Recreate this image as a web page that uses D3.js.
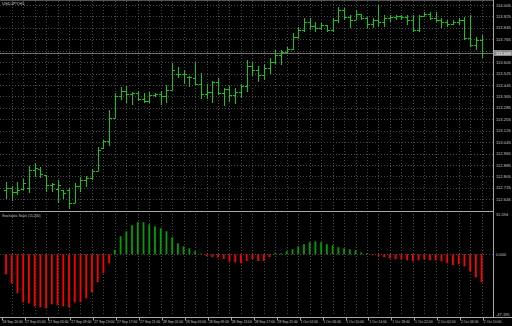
<!DOCTYPE html>
<html><head><meta charset="utf-8">
<script src="https://cdn.jsdelivr.net/npm/d3@7"></script>
<style>html,body{margin:0;padding:0;background:#000;overflow:hidden}</style>
</head><body><svg id="c" width="512" height="326"></svg>
<script>
const symbolTitle = "USDJPY,H1";
const indicatorTitle = "Stochastic Stack (15,200)";
const openP = [112.710,112.724,112.696,112.717,112.724,112.850,112.857,112.815,112.745,112.717,112.710,112.710,112.619,112.738,112.780,112.794,112.843,113.004,113.053,113.214,113.368,113.403,113.382,113.389,113.347,113.333,113.375,113.382,113.368,113.410,113.522,113.522,113.501,113.494,113.452,113.382,113.396,113.466,113.389,113.417,113.375,113.396,113.438,113.578,113.550,113.515,113.564,113.606,113.655,113.676,113.697,113.781,113.830,113.886,113.858,113.844,113.865,113.830,113.900,113.970,113.921,113.900,113.942,113.914,113.872,113.900,113.886,113.914,113.921,113.928,113.921,113.900,113.830,113.928,113.942,113.914,113.900,113.886,113.872,113.886,113.900,113.774,113.725,113.760];
const highP = [112.766,112.738,112.766,112.787,112.878,112.899,112.871,112.815,112.759,112.780,112.710,112.724,112.759,112.801,112.808,112.857,113.011,113.060,113.270,113.389,113.431,113.438,113.396,113.403,113.389,113.396,113.389,113.403,113.445,113.599,113.571,113.550,113.508,113.606,113.529,113.452,113.473,113.494,113.424,113.438,113.424,113.452,113.620,113.606,113.578,113.592,113.634,113.690,113.690,113.711,113.809,113.851,113.914,113.914,113.886,113.879,113.865,113.914,113.991,113.984,113.935,113.970,113.942,113.921,113.914,114.005,113.935,113.935,113.935,113.935,113.935,113.935,113.935,113.956,113.956,113.956,113.914,113.900,113.900,113.914,113.921,113.935,113.781,113.795];
const lowP = [112.647,112.633,112.675,112.710,112.689,112.801,112.794,112.696,112.696,112.619,112.647,112.577,112.619,112.696,112.731,112.780,112.843,112.997,113.018,113.214,113.340,113.319,113.305,113.333,113.319,113.319,113.361,113.305,113.319,113.410,113.494,113.452,113.431,113.445,113.347,113.347,113.319,113.375,113.298,113.326,113.312,113.354,113.396,113.508,113.466,113.480,113.522,113.592,113.585,113.669,113.690,113.767,113.816,113.830,113.816,113.830,113.816,113.816,113.879,113.900,113.844,113.900,113.900,113.844,113.844,113.851,113.851,113.886,113.900,113.900,113.865,113.816,113.816,113.921,113.900,113.886,113.844,113.851,113.865,113.865,113.760,113.711,113.690,113.634];
const closeP = [112.724,112.696,112.710,112.759,112.850,112.864,112.822,112.745,112.752,112.745,112.689,112.619,112.738,112.780,112.794,112.843,112.990,113.053,113.214,113.368,113.403,113.382,113.389,113.347,113.333,113.375,113.382,113.368,113.410,113.550,113.522,113.522,113.501,113.452,113.382,113.396,113.466,113.389,113.417,113.375,113.396,113.438,113.578,113.550,113.515,113.564,113.606,113.655,113.676,113.697,113.781,113.830,113.886,113.858,113.844,113.865,113.830,113.900,113.970,113.921,113.900,113.942,113.914,113.872,113.900,113.886,113.914,113.921,113.928,113.921,113.900,113.830,113.928,113.942,113.914,113.900,113.886,113.872,113.886,113.900,113.774,113.725,113.760,113.669];
const histValues = [-15.3,-22.2,-29.8,-36.7,-37.5,-39.8,-40.5,-41.3,-38.3,-39.0,-39.8,-40.5,-36.7,-36.7,-33.7,-29.1,-21.4,-14.5,-6.9,3.4,13.8,17.6,22.2,24.5,24.5,23.0,21.4,19.9,17.6,13.0,8.4,6.1,4.6,2.3,0.5,-1.3,-2.1,-2.5,-3.6,-5.6,-6.3,-6.9,-5.1,-3.8,-5.1,-5.1,-2.3,1.3,0.8,2.3,3.8,6.1,7.7,9.2,9.9,9.2,7.7,6.9,5.4,4.6,3.8,3.1,1.5,0.8,-0.8,-1.5,-2.3,-3.1,-3.8,-3.8,-4.6,-5.4,-4.6,-3.8,-4.6,-4.6,-5.4,-6.9,-8.2,-7.7,-9.2,-13.0,-17.6,-21.4];
const priceTicks = [114.005,113.925,113.845,113.765,113.685,113.605,113.525,113.445,113.365,113.285,113.205,113.125,113.045,112.965,112.885,112.805,112.725,112.645];
const timeLabels = ["26 Sep 20:00","27 Sep 01:00","27 Sep 05:00","27 Sep 09:00","27 Sep 13:00","27 Sep 17:00","27 Sep 21:00","28 Sep 01:00","28 Sep 05:00","28 Sep 09:00","28 Sep 13:00","28 Sep 17:00","28 Sep 21:00","1 Oct 02:00","1 Oct 06:00","1 Oct 10:00","1 Oct 14:00","1 Oct 18:00","1 Oct 22:00","2 Oct 02:00","2 Oct 06:00","2 Oct 10:00"];
const histTicks = [31.594, 0, -47.195];
const histTickLabels = ["31.594","0.000","-47.195"];
const lastPrice = 113.669;

const svg = d3.select("#c");
const W = 512, H = 326;
const plotR = 493;
const mainTop = 1, mainBot = 210, indTop = 213, indBot = 316, sepY = 211.5, timeY = 317.5;

svg.append("rect").attr("width",W).attr("height",H).attr("fill","#000");

const n = openP.length;
const x = d3.scaleLinear().domain([0, n-1]).range([6, 481.6]);
const y = d3.scaleLinear().domain([112.570, 114.033]).range([mainBot, mainTop]);
const yh = d3.scaleLinear().domain([-47.195, 31.594]).range([indBot, indTop]);

const gridColor = "#4a4a4a";
const g = svg.append("g");
const vIdx = d3.range(1, n+1, 2);
g.selectAll("line.vg").data(vIdx).join("line")
  .attr("x1", d=>Math.round(x(d))+0.5).attr("x2", d=>Math.round(x(d))+0.5)
  .attr("y1", mainTop).attr("y2", indBot)
  .attr("stroke", gridColor).attr("stroke-dasharray","1,2").attr("stroke-width",1);
g.selectAll("line.hg").data(priceTicks).join("line")
  .attr("x1",0).attr("x2",plotR)
  .attr("y1", d=>Math.round(y(d))+0.5).attr("y2", d=>Math.round(y(d))+0.5)
  .attr("stroke", gridColor).attr("stroke-dasharray","1,2");
g.append("line").attr("x1",0).attr("x2",plotR)
  .attr("y1", Math.round(yh(0))+0.5).attr("y2", Math.round(yh(0))+0.5)
  .attr("stroke", gridColor).attr("stroke-dasharray","1,2");

// current price line
svg.append("line").attr("x1",0).attr("x2",plotR)
  .attr("y1", Math.round(y(lastPrice))+0.5).attr("y2", Math.round(y(lastPrice))+0.5)
  .attr("stroke","#707070").attr("stroke-width",1);

// OHLC bars
const barColor = "#12c812";
const bars = svg.append("g").attr("stroke", barColor).attr("stroke-width",1);
d3.range(n).forEach(i=>{
  const cx = Math.round(x(i))+0.5;
  bars.append("line").attr("x1",cx).attr("x2",cx).attr("y1",y(highP[i])).attr("y2",y(lowP[i]));
  bars.append("line").attr("x1",cx-2.5).attr("x2",cx).attr("y1",Math.round(y(openP[i]))+0.5).attr("y2",Math.round(y(openP[i]))+0.5);
  bars.append("line").attr("x1",cx).attr("x2",cx+2.5).attr("y1",Math.round(y(closeP[i]))+0.5).attr("y2",Math.round(y(closeP[i]))+0.5);
});

// histogram
svg.append("g").selectAll("rect").data(histValues).join("rect")
  .attr("x",(d,i)=>x(i)-0.9).attr("width",1.8)
  .attr("y", d=>Math.min(yh(0), yh(d))).attr("height", d=>Math.abs(yh(d)-yh(0)))
  .attr("fill", d=> d>=0 ? "#00a000" : "#ff0000");

// frame lines
const axisColor = "#a8a8a8";
svg.append("line").attr("x1",plotR+0.5).attr("x2",plotR+0.5).attr("y1",0).attr("y2",timeY).attr("stroke",axisColor);
svg.append("line").attr("x1",0).attr("x2",plotR).attr("y1",sepY).attr("y2",sepY).attr("stroke",axisColor);
svg.append("line").attr("x1",0).attr("x2",W).attr("y1",timeY).attr("y2",timeY).attr("stroke",axisColor);
svg.append("line").attr("x1",0).attr("x2",plotR).attr("y1",0.5).attr("y2",0.5).attr("stroke","#555");

const txt = "#c8c8c8";
const font = "Liberation Sans, Arial, sans-serif";
const cpY = y(lastPrice);
// price labels (the one hidden under the current-price box is skipped, as in the terminal)
svg.append("g").selectAll("text").data(priceTicks.filter(d=>Math.abs(y(d)-cpY)>6)).join("text")
  .attr("x", plotR+3).attr("y", d=>y(d)+1.5)
  .attr("font-family",font).attr("font-size",4.2).attr("fill",txt).text(d=>d.toFixed(3));
svg.append("rect").attr("x",plotR+1).attr("y",cpY-3).attr("width",W-plotR-1).attr("height",6).attr("fill","#8a8a8a");
svg.append("text").attr("x",plotR+3).attr("y",cpY+1.5).attr("font-family",font).attr("font-size",4.2).attr("fill","#fff").text(lastPrice.toFixed(3));

// indicator labels
svg.append("g").selectAll("text").data(histTicks).join("text")
  .attr("x", plotR+3).attr("y", (d,i)=> i===0 ? yh(d)+3 : (i===2 ? yh(d)-0.5 : yh(d)+1.5))
  .attr("font-family",font).attr("font-size",4).attr("fill",txt).text((d,i)=>histTickLabels[i]);

// time labels
const tIdx = timeLabels.map((t,k)=>4*k);
svg.append("g").selectAll("line").data(tIdx).join("line")
  .attr("x1", d=>Math.round(x(d)-4.3)+0.5).attr("x2", d=>Math.round(x(d)-4.3)+0.5)
  .attr("y1", timeY).attr("y2", timeY+3).attr("stroke",axisColor);
svg.append("g").selectAll("text").data(timeLabels).join("text")
  .attr("x",(d,k)=>x(4*k)-3.5).attr("y",322.5)
  .attr("font-family",font).attr("font-size",3.4).attr("fill",txt).text(d=>d);

// titles
svg.append("text").attr("x",2).attr("y",5).attr("font-family",font).attr("font-size",4.2).attr("fill",txt).text(symbolTitle);
svg.append("text").attr("x",2).attr("y",217).attr("font-family",font).attr("font-size",3.4).attr("fill",txt).text(indicatorTitle);
</script>
</body></html>
